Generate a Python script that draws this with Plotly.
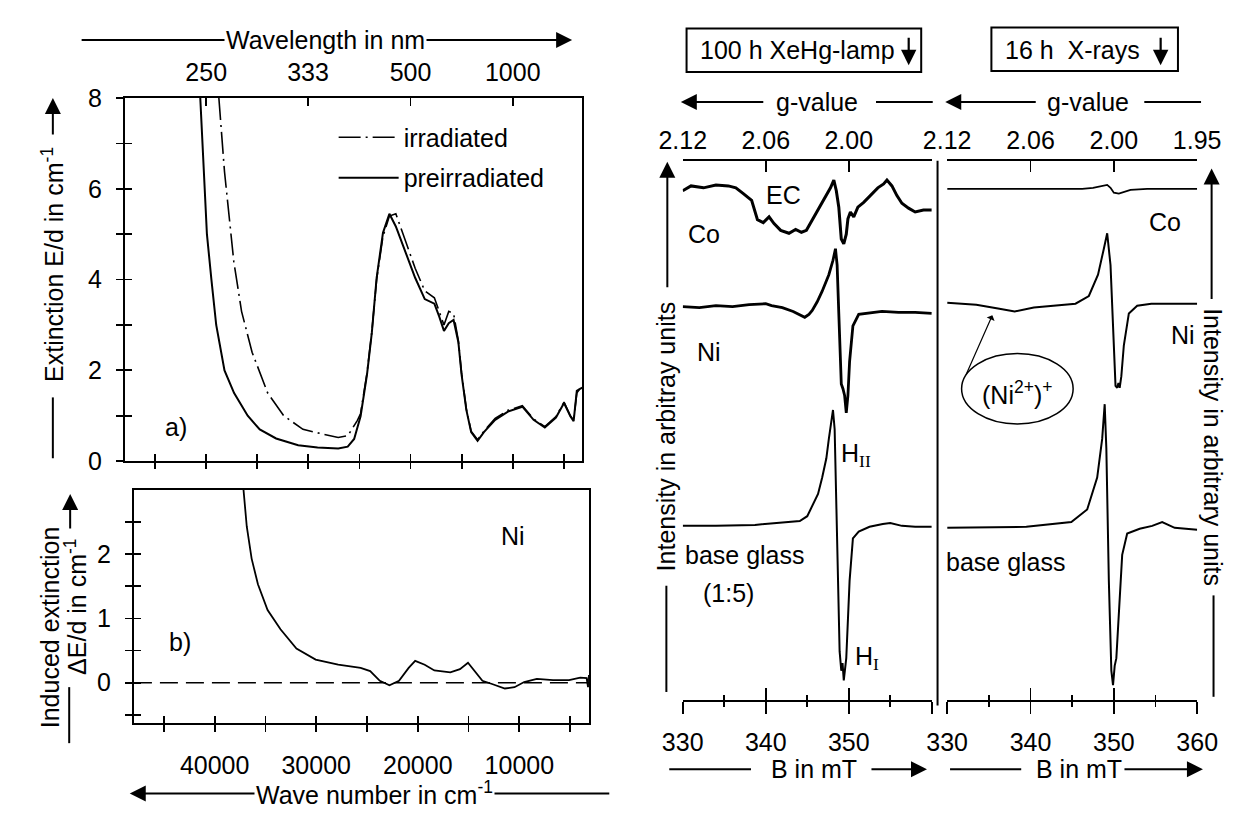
import plotly.graph_objects as go

W, H = 1251, 818
FONT = "Arial, 'Liberation Sans', sans-serif"
FS = 25

# ---------------- panel a) : extinction spectra ----------------
wn_irr = [38760, 38210, 37300, 36540, 35510, 33980, 32410, 30530, 28650, 27080, 26140, 25520, 25200,
          24890, 24260, 23790, 23320, 22700, 22070, 21440, 20490, 19550, 18610, 17670, 17200, 16730,
          16260, 15790, 15320, 15010, 14540, 14070, 13440, 12820, 11720, 10470, 9060, 7960, 6860,
          5770, 4980, 4360, 4040, 3730, 3420, 3190]
ext_irr = [8.0, 6.38, 4.4, 3.3, 2.4, 1.5, 1.0, 0.7, 0.6, 0.52, 0.56, 0.77, 0.9,
           1.05, 1.95, 2.85, 4.0, 4.95, 5.4, 5.45, 4.85, 4.25, 3.75, 3.6, 3.3, 3.0,
           3.3, 3.25, 2.65, 1.95, 1.15, 0.66, 0.47, 0.66, 0.94, 1.12, 1.22, 0.93, 0.76,
           0.98, 1.30, 1.0, 0.9, 1.5, 1.6, 1.62]

wn_pre = [40580, 40170, 39930, 39490, 39020, 38210, 37270, 35940, 34760, 33160, 31000, 29100,
          27080, 26150, 25520, 24890, 24260, 23790, 23320, 22700, 22070, 21440, 20490, 19550,
          18610, 17670, 17200, 16730, 16260, 15790, 15320, 15010, 14540, 14070, 13440, 12820,
          11720, 10470, 9060, 7960, 6860, 5770, 4980, 4360, 4040, 3730, 3420, 3190]
ext_pre = [8.0, 6.0, 5.0, 4.0, 3.0, 2.0, 1.5, 1.0, 0.7, 0.5, 0.35, 0.3,
           0.28, 0.32, 0.49, 0.99, 1.91, 2.83, 4.04, 5.03, 5.45, 5.17, 4.60, 4.04,
           3.57, 3.47, 3.19, 2.87, 3.04, 3.11, 2.62, 1.91, 1.13, 0.64, 0.45, 0.64,
           0.91, 1.09, 1.20, 0.91, 0.74, 0.96, 1.28, 0.99, 0.88, 1.55, 1.59, 1.62]

# ---------------- panel b) : induced extinction ----------------
wn_diff = [37160, 36840, 36360, 35740, 34790, 33520, 31950, 30060, 27840, 25630, 24690, 23740,
           22790, 21850, 20900, 20260, 19320, 18370, 16800, 15850, 15060, 14430, 13640, 12690,
           11430, 10480, 9530, 8280, 6690, 5110, 4010, 3380, 3240, 3150]
dext = [3.0, 2.43, 1.93, 1.53, 1.13, 0.83, 0.53, 0.36, 0.28, 0.23, 0.18, 0.03,
        -0.04, 0.03, 0.23, 0.34, 0.28, 0.19, 0.16, 0.21, 0.31, 0.18, 0.03, -0.02,
        -0.09, -0.07, 0.01, 0.06, 0.04, 0.04, 0.08, 0.07, -0.07, 0.12]
zero_level = [0, 0]

wn_range_a = [47950, 3180]
wn_range_b = [47950, 3150]
wn_ticks = [45000, 40000, 35000, 30000, 25000, 20000, 15000, 10000, 5000]
wn_major = [40000, 30000, 20000, 10000]
wn_labels = ["40000", "30000", "20000", "10000"]
wn_minor = [45000, 35000, 25000, 15000, 5000]
lam_nm = [250, 333, 500, 1000]
lam_labels = ["250", "333", "500", "1000"]
lam_pos = [round(1e7 / l, -1) for l in lam_nm]
ext_ticks = [0, 2, 4, 6, 8]
ext_minor = [1, 3, 5, 7]
dext_ticks = [0, 1, 2]
dext_minor = [-0.5, 0.5, 1.5, 2.5]

# ---------------- ESR spectra (intensity in arbitrary units) ----------------
B_co_L = [330, 331, 332.5, 334, 335.5, 336.4, 337.3, 338.3, 339, 339.7, 340.4, 341, 341.8, 342.8,
          343.6, 344.3, 344.9, 345.6, 346.3, 347.1, 347.8, 348.2, 348.5, 348.8, 349.1, 349.4,
          349.7, 349.9, 350.2, 350.6, 351.1, 351.8, 352.6, 353.5, 354.2, 354.6, 355.2, 355.8,
          356.4, 357.2, 358, 359, 360]
I_co_L = [527, 532, 530, 533, 532, 530, 524, 517, 497, 494, 500, 493, 486, 483,
          487, 484, 486, 497, 507, 520, 530, 538, 527, 510, 477, 472,
          482, 498, 505, 500, 510, 515, 522, 530, 534, 538, 532, 522,
          514, 509, 505, 507, 507]

B_ni_L = [330, 332, 334, 336, 338, 340, 340.7, 342, 343.3, 344, 344.7, 345.2, 345.6, 346.2,
          346.8, 347.6, 348.1, 348.4, 348.6, 348.8, 349.1, 349.3, 349.5, 349.7, 349.9, 350.1,
          350.5, 351.2, 352, 354, 356, 358, 360]
I_ni_L = [407, 406, 408, 407, 409, 410, 408, 406, 402, 399, 396, 399, 403, 412,
          423, 440, 455, 467, 450, 400, 327, 322, 315, 297, 315, 350,
          387, 399, 400, 402, 401, 401, 400]

B_bg_L = [330, 334, 338.7, 342, 344.1, 345, 345.6, 346.3, 346.8, 347.3, 347.6, 347.9, 348.1,
          348.3, 348.5, 348.9, 349.1, 349.25, 349.4, 349.55, 349.7, 350.1, 350.5, 351.2,
          352.5, 354.1, 355, 356.4, 358, 360]
I_bg_L = [180, 180, 181, 183, 185, 190, 200, 213, 230, 250, 270, 290, 300,
          280, 190, 50, 30, 38, 20, 35, 43, 123, 167, 174,
          179, 182, 183, 180, 179, 179]

B_co_R = [330, 340, 345, 346.2, 347.5, 348.5, 349.2, 349.6, 350, 350.6, 351.2, 352, 354, 360]
I_co_R = [529, 529, 529, 529, 530, 532, 533, 530, 525, 524, 526, 528, 529, 529]

B_ni_R = [330, 333.5, 336.1, 338.1, 340.4, 343.1, 345.4, 347, 348.1, 348.8, 349.2, 349.6, 350,
          350.2, 350.4, 350.55, 350.7, 350.9, 351.2, 351.8, 352.8, 354.5, 360]
I_ni_R = [411, 409, 405, 402, 406, 408, 410, 418, 440, 467, 483, 450, 367,
          325, 323, 328, 323, 335, 367, 400, 408, 410, 410]

B_bg_R = [330, 339.5, 344.9, 346.8, 348, 348.6, 348.9, 349.1, 349.4, 349.7, 349.9, 350.1,
          350.3, 350.6, 351, 351.6, 353.1, 354.6, 355.8, 357.3, 360]
I_bg_R = [178, 179, 184, 197, 230, 270, 306, 260, 123, 30, 15, 35,
          43, 90, 150, 172, 177, 180, 184, 178, 176]

B_range = [330, 360]
B_ticks = [330, 340, 350, 360]
B_minor = [335, 345, 355]
B_labels_L = ["330", "340", "350", ""]
B_labels_R = ["330", "340", "350", "360"]
g_labels_L = ["2.12", "2.06", "2.00", ""]
g_labels_R = ["2.12", "2.06", "2.00", "1.95"]
I_range = [0, 557.3]


def px(x):
    return x / W


def py(y):
    return 1 - y / H


fig = go.Figure()

# ---- data traces ----
fig.add_trace(go.Scatter(x=wn_irr, y=ext_irr, mode="lines", name="irradiated", legendgroup="a",
                         line=dict(color="black", width=1.6, dash="22px,5px,2px,5px"),
                         xaxis="x", yaxis="y"))
fig.add_trace(go.Scatter(x=wn_pre, y=ext_pre, mode="lines", name="preirradiated", legendgroup="b",
                         line=dict(color="black", width=2), xaxis="x", yaxis="y"))
fig.add_trace(go.Scatter(x=wn_range_b, y=zero_level, mode="lines", showlegend=False,
                         line=dict(color="black", width=1.5, dash="18px,8px"), xaxis="x4", yaxis="y3"))
fig.add_trace(go.Scatter(x=wn_diff, y=dext, mode="lines", showlegend=False,
                         line=dict(color="black", width=1.8), xaxis="x4", yaxis="y3"))
for Bv, Iv, w in [(B_co_L, I_co_L, 3.0), (B_ni_L, I_ni_L, 2.8), (B_bg_L, I_bg_L, 2.0)]:
    fig.add_trace(go.Scatter(x=Bv, y=Iv, mode="lines", showlegend=False,
                             line=dict(color="black", width=w), xaxis="x6", yaxis="y5"))
for Bv, Iv, w in [(B_co_R, I_co_R, 1.8), (B_ni_R, I_ni_R, 2.0), (B_bg_R, I_bg_R, 2.0)]:
    fig.add_trace(go.Scatter(x=Bv, y=Iv, mode="lines", showlegend=False,
                             line=dict(color="black", width=w), xaxis="x9", yaxis="y6"))

# ---- empty helper traces so that the secondary (tick / label) axes get drawn ----
helpers = [("x2", "y", wn_ticks), ("x3", "y", lam_pos), ("x", "y2", wn_ticks),
           ("x5", "y3", wn_ticks), ("x4", "y4", wn_ticks),
           ("x7", "y5", B_ticks), ("x8", "y5", B_ticks),
           ("x10", "y6", B_ticks), ("x11", "y6", B_ticks)]
for xa, ya, xv in helpers:
    fig.add_trace(go.Scatter(x=xv, y=[None] * len(xv), mode="lines", showlegend=False,
                             hoverinfo="skip", xaxis=xa, yaxis=ya))

common = dict(showgrid=False, zeroline=False, color="black", linecolor="black", tickcolor="black",
              tickwidth=1.8, linewidth=2, tickfont=dict(size=FS, color="black", family=FONT),
              fixedrange=True)


def minor(vals, side, ln):
    return dict(tickmode="array", tickvals=vals, ticks=side, ticklen=ln, tickcolor="black", tickwidth=1.8)


XA = [px(105), px(580.7)]
YA = [py(463), py(87)]
XB = [px(114.3), px(587.5)]
YB = [py(734), py(492.7)]
XL = [px(685), px(944)]
XR = [px(960), px(1220)]
YE = [py(710), py(152.7)]

lay = {}
# panel a
lay["xaxis"] = dict(domain=XA, anchor="y", range=wn_range_a, tickmode="array", tickvals=wn_ticks,
                    ticks="inside", ticklen=7, showticklabels=False, showline=True, **common)
lay["xaxis2"] = dict(overlaying="x", anchor="y", side="bottom", range=wn_range_a, tickmode="array",
                     tickvals=wn_ticks, ticks="outside", ticklen=7, showticklabels=False, showline=False, **common)
lay["xaxis3"] = dict(overlaying="x", anchor="y", side="top", range=wn_range_a, tickmode="array",
                     tickvals=lam_pos, ticktext=lam_labels, ticks="inside", ticklen=8, showline=True,
                     ticklabelstandoff=5, **common)
lay["yaxis"] = dict(domain=YA, anchor="x", range=[0, 8], tickmode="array", tickvals=ext_ticks,
                    ticks="outside", ticklen=7, minor=minor(ext_minor, "outside", 7),
                    showline=True, mirror=True, ticklabelstandoff=9, **common)
lay["yaxis2"] = dict(overlaying="y", anchor="x", side="left", range=[0, 8], tickmode="array",
                     tickvals=ext_ticks, ticks="inside", ticklen=7,
                     minor=minor(ext_minor, "inside", 7), showticklabels=False, showline=False, **common)
# panel b
lay["xaxis4"] = dict(domain=XB, anchor="y3", range=wn_range_b, tickmode="array", tickvals=wn_major,
                     ticktext=wn_labels, ticks="outside", ticklen=7, minor=minor(wn_minor, "outside", 7),
                     showline=True, mirror=True, ticklabelstandoff=12, **common)
lay["xaxis5"] = dict(overlaying="x4", anchor="y3", side="bottom", range=wn_range_b, tickmode="array",
                     tickvals=wn_ticks, ticks="inside", ticklen=7, showticklabels=False, showline=False, **common)
lay["yaxis3"] = dict(domain=YB, anchor="x4", range=[-0.625, 3.0], tickmode="array", tickvals=dext_ticks,
                     ticks="outside", ticklen=7, minor=minor(dext_minor, "outside", 7),
                     showline=True, mirror=True, ticklabelstandoff=9, **common)
lay["yaxis4"] = dict(overlaying="y3", anchor="x4", side="left", range=[-0.625, 3.0], tickmode="array",
                     tickvals=dext_ticks, ticks="inside", ticklen=7,
                     minor=minor(dext_minor, "inside", 7), showticklabels=False,
                     showline=False, **common)
# ESR left
lay["xaxis6"] = dict(domain=XL, anchor="y5", range=B_range, tickmode="array", tickvals=B_ticks,
                     ticktext=B_labels_L, ticks="outside", ticklen=12, minor=minor(B_minor, "outside", 5),
                     showline=True, ticklabelstandoff=7, **common)
lay["xaxis7"] = dict(overlaying="x6", anchor="y5", side="bottom", range=B_range, tickmode="array",
                     tickvals=B_ticks, ticks="inside", ticklen=12, minor=minor(B_minor, "inside", 5),
                     showticklabels=False, showline=False, **common)
lay["xaxis8"] = dict(overlaying="x6", anchor="y5", side="top", range=B_range, tickmode="array",
                     tickvals=B_ticks, ticktext=g_labels_L, ticks="inside", ticklen=11, showline=True,
                     **common)
lay["yaxis5"] = dict(domain=YE, anchor="x6", range=I_range, visible=False, fixedrange=True)
# ESR right
lay["xaxis9"] = dict(domain=XR, anchor="y6", range=B_range, tickmode="array", tickvals=B_ticks,
                     ticktext=B_labels_R, ticks="outside", ticklen=12, minor=minor(B_minor, "outside", 5),
                     showline=True, ticklabelstandoff=7, **common)
lay["xaxis10"] = dict(overlaying="x9", anchor="y6", side="bottom", range=B_range, tickmode="array",
                      tickvals=B_ticks, ticks="inside", ticklen=12, minor=minor(B_minor, "inside", 5),
                      showticklabels=False, showline=False, **common)
lay["xaxis11"] = dict(overlaying="x9", anchor="y6", side="top", range=B_range, tickmode="array",
                      tickvals=B_ticks, ticktext=g_labels_R, ticks="inside", ticklen=11, showline=True,
                      **common)
lay["yaxis6"] = dict(domain=YE, anchor="x9", range=I_range, visible=False, fixedrange=True)


def txt(s, x, y, angle=0, xanchor="center", bg=None, size=FS):
    d = dict(text=s, x=px(x), y=py(y), xref="paper", yref="paper", showarrow=False,
             xanchor=xanchor, yanchor="middle", textangle=angle,
             font=dict(size=size, color="black", family=FONT))
    if bg:
        d["bgcolor"] = bg
    return d


def arrow(xt, yt, xs, ys, width=2.0, head=2, size=1.6):
    return dict(text="", x=px(xt), y=py(yt), xref="paper", yref="paper", ax=xs - xt, ay=ys - yt,
                axref="pixel", ayref="pixel", showarrow=True, arrowhead=head, arrowsize=size,
                arrowwidth=width, arrowcolor="black", standoff=0, startstandoff=0)


def seg(x0, y0, x1, y1, w=2.0):
    return dict(type="line", xref="paper", yref="paper", x0=px(x0), y0=py(y0), x1=px(x1), y1=py(y1),
                line=dict(color="black", width=w))


shapes = [
    dict(type="rect", xref="paper", yref="paper", x0=px(689), x1=px(933), y0=py(60), y1=py(15),
         line=dict(color="black", width=2)),
    dict(type="rect", xref="paper", yref="paper", x0=px(1006), x1=px(1200), y0=py(59), y1=py(14),
         line=dict(color="black", width=2)),
    seg(950, 152, 950, 716),
    dict(type="circle", xref="paper", yref="paper", x0=px(975), x1=px(1091), y0=py(424.5), y1=py(351.5),
         line=dict(color="black", width=1.5)),
    seg(30, 397, 30, 460),
    seg(47, 697, 47, 755),
    seg(668, 592, 668, 702),
    seg(1237, 602, 1237, 707),
    seg(886, 91, 945, 91),
    seg(1165, 91, 1224, 91),
    seg(671, 782, 756, 782),
    seg(963, 782, 1037, 782),
]

ann = [
    arrow(570, 27, 78, 27),
    txt("Wavelength in nm", 314, 27, bg="white"),
    arrow(110, 807, 591, 807),
    txt("Wave number in cm<sup>-1</sup>", 364, 807, bg="white"),
    arrow(30, 87, 30, 125),
    txt("Extinction E/d in cm<sup>-1</sup>", 30, 259, angle=-90),
    arrow(48, 497, 48, 533),
    txt("Induced extinction", 27, 635, angle=-90),
    txt("\u0394E/d in cm<sup>-1</sup>", 54, 614, angle=-90),
    txt("a)", 158, 428),
    txt("b)", 162, 650),
    txt("Ni", 508, 540),
    txt("100 h XeHg-lamp", 804, 37),
    arrow(920, 53, 920, 24, width=2.2, size=1.4),
    txt("16 h\u00a0 X-rays", 1090, 37),
    arrow(1182, 53, 1182, 24, width=2.2, size=1.4),
    arrow(683, 91, 767, 91),
    txt("g-value", 825, 91),
    arrow(958, 91, 1050, 91),
    txt("g-value", 1106, 91),
    arrow(939, 782, 882, 782),
    txt("B in mT", 822, 782),
    arrow(1226, 782, 1146, 782),
    txt("B in mT", 1097, 782),
    arrow(669, 153, 669, 280),
    txt("Intensity in arbitray units", 668, 437, angle=-90),
    arrow(1235, 160, 1235, 292),
    txt("Intensity in arbitrary units", 1237, 448, angle=90),
    txt("EC", 790, 187),
    txt("Co", 707, 228),
    txt("Ni", 712, 350),
    txt("H<sub><span style='font-family:Liberation Serif'>II</span></sub>", 865, 457),
    txt("base glass", 685, 560, xanchor="left"),
    txt("(1:5)", 733, 600),
    txt("H<sub><span style='font-family:Liberation Serif'>I</span></sub>", 877, 667),
    txt("Co", 1187, 215),
    txt("Ni", 1205, 332),
    txt("(Ni<sup>2+</sup>)<sup>+</sup>", 1033, 392),
    arrow(1007, 312, 980, 373, width=1.2, head=1, size=1.2),
    txt("base glass", 957, 567, xanchor="left"),
]

fig.update_layout(
    width=W, height=H, autosize=False,
    margin=dict(l=0, r=0, t=0, b=0),
    paper_bgcolor="white", plot_bgcolor="rgba(0,0,0,0)",
    font=dict(family=FONT, size=FS, color="black"),
    showlegend=True,
    legend=dict(x=px(322), y=py(104), xanchor="left", yanchor="top", bgcolor="rgba(0,0,0,0)",
                font=dict(size=FS, color="black", family=FONT), traceorder="grouped",
                tracegroupgap=5, itemwidth=60),
    shapes=shapes,
    annotations=ann,
    **lay,
)

fig.write_html("out.html", config={"displayModeBar": False, "staticPlot": True},
               post_script="document.body.style.margin='0px';")
